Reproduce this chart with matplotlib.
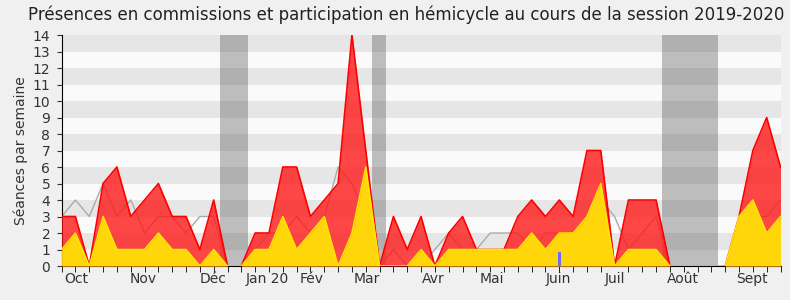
import matplotlib
matplotlib.use("Agg")
import matplotlib.pyplot as plt
import numpy as np

# weekly values, session 2019-2020 (week 0 .. 52)
commissions = [3, 3, 0, 5, 6, 3, 4, 5, 3, 3,
               1, 4, 0, 0, 2, 2, 6, 6, 3, 4,
               5, 14, 7, 0, 3, 1, 3, 0, 2, 3,
               1, 1, 1, 3, 4, 3, 4, 3, 7, 7,
               0, 4, 4, 4, 0, 0, 0, 0, 0, 3,
               7, 9, 6]
hemicycle = [1, 2, 0, 3, 1, 1, 1, 2, 1, 1,
             0, 1, 0, 0, 1, 1, 3, 1, 2, 3,
             0, 2, 6, 0, 0, 0, 1, 0, 1, 1,
             1, 1, 1, 1, 2, 1, 2, 2, 3, 5,
             0, 1, 1, 1, 0, 0, 0, 0, 0, 3,
             4, 2, 3]
mediane = [3, 4, 3, 5, 3, 4, 2, 3, 3, 2,
           3, 3, 0, 0, 1, 2, 2, 3, 2, 3,
           6, 5, 3, 0, 1, 0, 0, 1, 2, 1,
           1, 2, 2, 2, 1, 2, 2, 2, 3, 4,
           3, 1, 2, 3, 0, 0, 0, 0, 0, 2,
           3, 3, 4]
questions_weeks = [36]
questions_vals = [0.87]

vacances = [(11.45, 13.45), (22.45, 23.45), (43.45, 47.45)]

month_labels = ["Oct", "Nov", "Déc", "Jan 20", "Fév", "Mar",
                "Avr", "Mai", "Juin", "Juil", "Août", "Sept"]
month_weeks = [1.08, 5.9, 10.96, 14.87, 18.08, 22.1,
               26.9, 31.1, 35.9, 40.0, 44.95, 49.9]

weeks = np.arange(len(commissions))
ymax = 14

fig = plt.figure(figsize=(7.9, 3.0), dpi=100, facecolor="#f0f0f0")
ax = fig.add_axes([0.078, 0.1133, 0.910, 0.770])
ax.set_facecolor("#fafafa")

# alternating horizontal bands
for y in range(1, ymax, 2):
    ax.axhspan(y, y + 1, color="#e6e6e6", lw=0, zorder=0)

for start, end in vacances:
    ax.axvspan(start, end, color="#333333", alpha=0.3, lw=0, zorder=1)

ax.plot(weeks, mediane, color="#aaaaaa", lw=1, zorder=2)
ax.fill_between(weeks, commissions, color="#ff1a1a", alpha=0.8, lw=0, zorder=3)
ax.plot(weeks, commissions, color="#ff0000", lw=1.2, zorder=4)
ax.fill_between(weeks, hemicycle, color="#ffd60a", lw=0, zorder=5)
ax.plot(weeks, hemicycle, color="#ffe600", lw=1.1, zorder=6)
ax.bar(questions_weeks, questions_vals, width=0.25, color="#6b6bff", zorder=7)

ax.set_xlim(0, len(commissions) - 1)
ax.set_ylim(0, ymax)
ax.set_yticks(range(0, ymax + 1))
ax.tick_params(axis="y", length=3.6, labelsize=10, pad=4.5, colors="#333333")
ax.set_xticks(month_weeks)
ax.set_xticklabels(month_labels)
ax.set_xticks(weeks, minor=True)
ax.tick_params(axis="x", which="major", length=0, labelsize=10, pad=4,
               colors="#333333")
ax.tick_params(axis="x", which="minor", length=4)

for side in ("top", "right"):
    ax.spines[side].set_visible(False)

ax.set_ylabel("Séances par semaine", fontsize=10, color="#333333", labelpad=3)
fig.text(0.514, 0.950, "Présences en commissions et participation en hémicycle "
         "au cours de la session 2019-2020", ha="center", va="center",
         fontsize=12, color="#222222")

fig.savefig("out.png", dpi=100, facecolor=fig.get_facecolor())
